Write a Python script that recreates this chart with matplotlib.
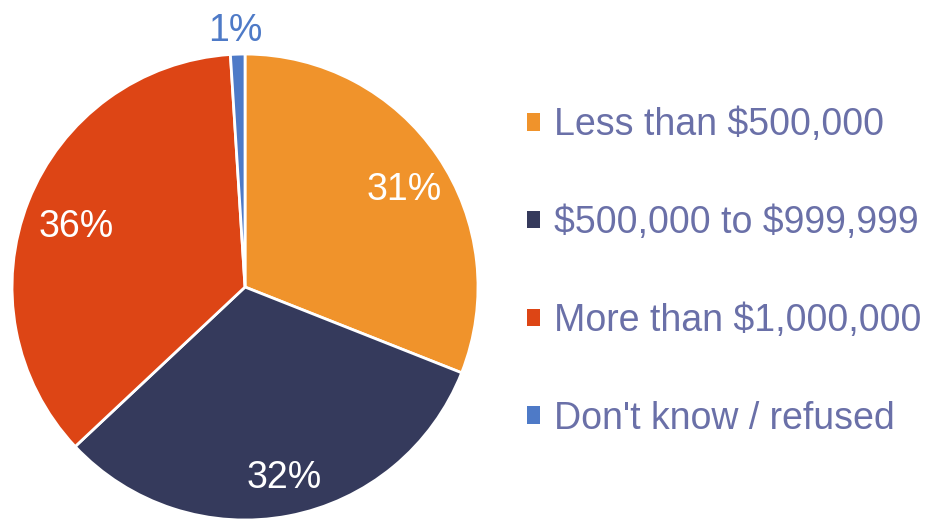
import matplotlib.pyplot as plt
from matplotlib.patches import Patch

plt.rcParams['font.family'] = ['Liberation Sans', 'DejaVu Sans']

# Data
categories = ['Less than \\$500,000', '\\$500,000 to \\$999,999',
              'More than \\$1,000,000', "Don't know / refused"]
shares = [31, 32, 36, 1]
colors = ['#F0932B', '#353A5C', '#DD4515', '#4E7AC7']

fig = plt.figure(figsize=(9.26, 5.19), dpi=100)
ax = fig.add_axes([0.013, -0.002, 0.5032, 0.8979])

wedges, texts, autotexts = ax.pie(
    shares, colors=colors, startangle=90, counterclock=False,
    autopct='%1.0f%%', pctdistance=0.8, radius=1,
    wedgeprops=dict(edgecolor='white', linewidth=2),
    textprops=dict(color='white', fontsize=27))

# nudge labels a little lower, like the original
for t in autotexts[:3]:
    x, y = t.get_position()
    t.set_position((x + 0.02, y - 0.035))

# small slice label sits outside the pie
autotexts[3].set_position((-0.04, 1.10))
autotexts[3].set_color('#4E7AC7')

ax.set_xlim(-1, 1)
ax.set_ylim(-1, 1)
ax.set_aspect('equal')

handles = [Patch(facecolor=c, edgecolor='none') for c in colors]
fig.legend(handles, categories, loc='center left', bbox_to_anchor=(0.533, 0.476),
           frameon=False, fontsize=27, labelcolor='#6A70A8',
           handlelength=0.35, handleheight=0.35, handletextpad=0.35,
           labelspacing=1.65)

fig.savefig('out.png', dpi=100)
